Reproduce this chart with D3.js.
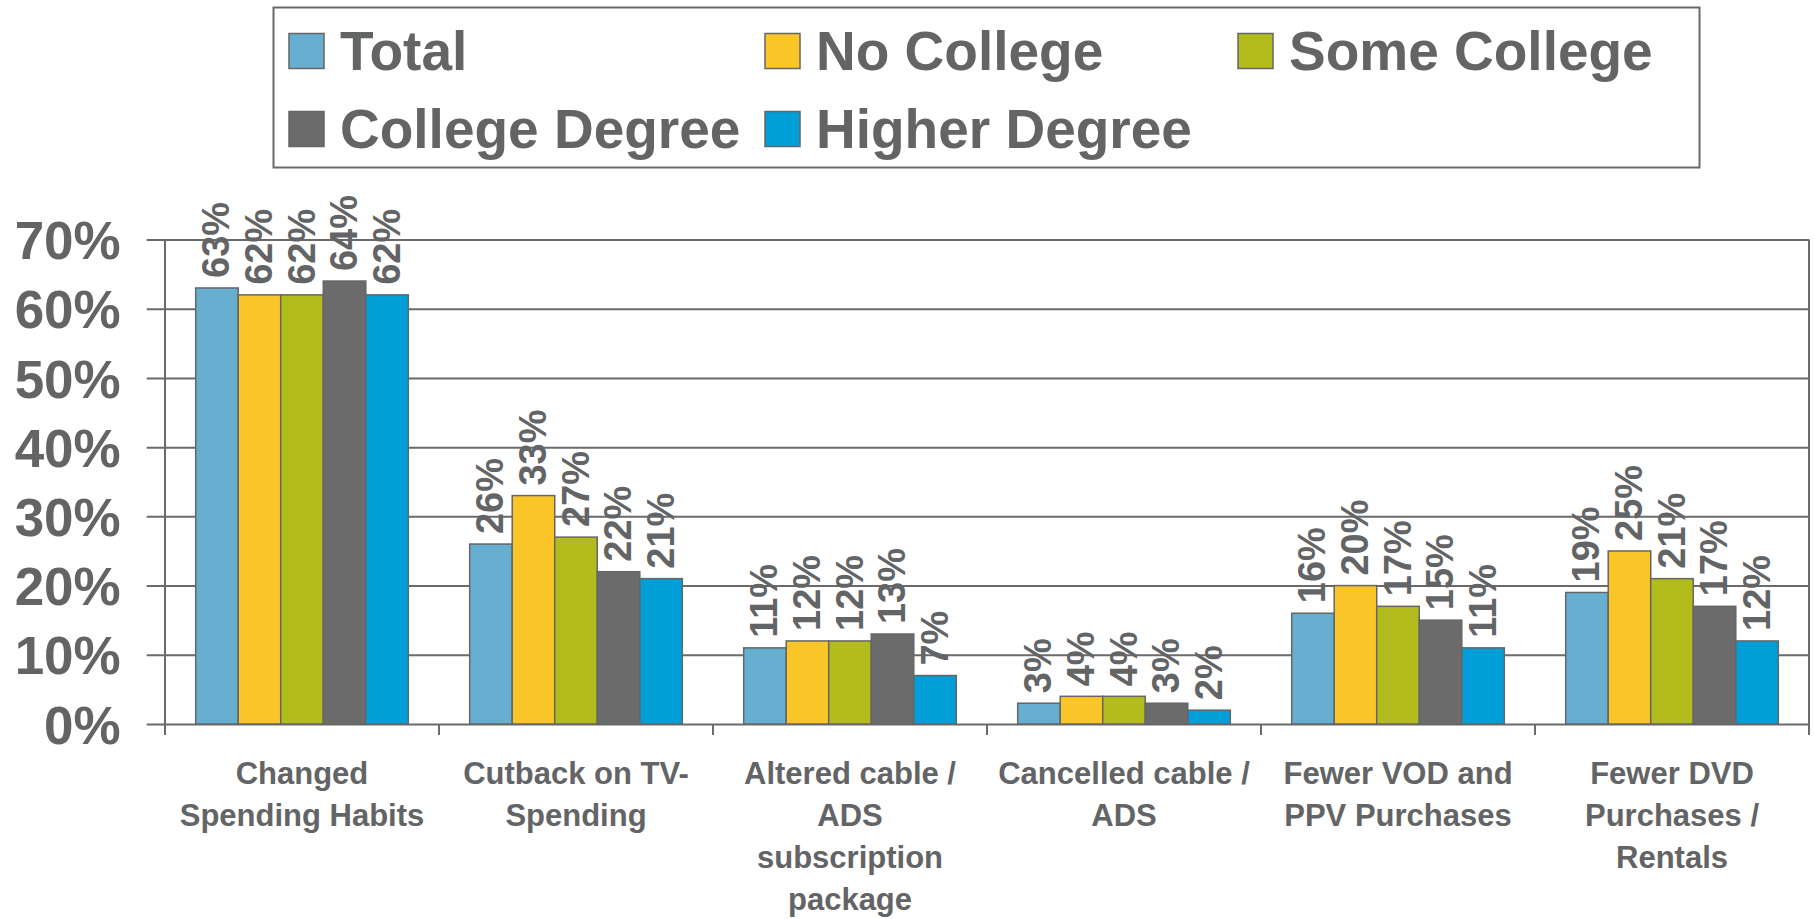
<!DOCTYPE html>
<html>
<head>
<meta charset="utf-8">
<script src="https://cdn.jsdelivr.net/npm/d3@7"></script>
<style>
  body { margin: 0; background: #fff; }
  svg { display: block; font-family: "Liberation Sans", Arial, sans-serif; font-weight: bold; }
</style>
</head>
<body>
<div id="chart"></div>
<script>
(function() {

  var categories = [
    ["Changed", "Spending Habits"],
    ["Cutback on TV-", "Spending"],
    ["Altered cable /", "ADS", "subscription", "package"],
    ["Cancelled cable /", "ADS"],
    ["Fewer VOD and", "PPV Purchases"],
    ["Fewer DVD", "Purchases /", "Rentals"]
  ]
  var series = ["Total", "No College", "Some College", "College Degree", "Higher Degree"]
  var colors = ["#67afd1", "#fac526", "#b2bc1c", "#6b6b6b", "#009fd8"]

  // percent values per series, one per category
  var total         = [63, 26, 11, 3, 16, 19]
  var noCollege     = [62, 33, 12, 4, 20, 25]
  var someCollege   = [62, 27, 12, 4, 17, 21]
  var collegeDegree = [64, 22, 13, 3, 15, 17]
  var higherDegree  = [62, 21, 7, 2, 11, 12]
  var values = [total, noCollege, someCollege, collegeDegree, higherDegree]

  var yTicks = [0, 10, 20, 30, 40, 50, 60, 70]

  var width = 1814, height = 919
  var textColor = "#636466", lineColor = "#6a6a6a"
  var left = 165, right = 1809, top = 239.5, bottom = 724

  var svg = d3.select("#chart").append("svg")
      .attr("width", width)
      .attr("height", height)

  var x = d3.scaleBand()
      .domain(d3.range(categories.length))
      .range([left, right])

  var pad = x.bandwidth() * 0.112
  var xs = d3.scaleBand()
      .domain(d3.range(series.length))
      .range([pad, x.bandwidth() - pad])

  var y = d3.scaleLinear()
      .domain([0, 70])
      .range([bottom, top])

  // gridlines + y labels (axis anchored at the right border, ticks reaching left past the axis)
  var yAxis = svg.append("g")
      .attr("transform", "translate(" + right + ",0)")
      .call(d3.axisLeft(y)
        .tickValues(yTicks)
        .tickSize(right - 146.7)
        .tickPadding(26)
        .tickFormat(function(d) { return d + "%" }))

  yAxis.select(".domain").remove()
  yAxis.selectAll("line")
      .attr("stroke", lineColor)
      .attr("stroke-width", 2)
  yAxis.selectAll("text")
      .attr("fill", textColor)
      .style("font-size", "53px")
      .style("font-family", "'Liberation Sans', Arial, sans-serif")
      .style("font-weight", "bold")
      .attr("dy", "0.36em")

  // left axis and right border
  svg.append("line")
      .attr("x1", left).attr("x2", left)
      .attr("y1", top).attr("y2", bottom)
      .attr("stroke", lineColor).attr("stroke-width", 2)
  svg.append("line")
      .attr("x1", right).attr("x2", right)
      .attr("y1", top).attr("y2", bottom)
      .attr("stroke", lineColor).attr("stroke-width", 2)

  // category boundary ticks
  var bounds = d3.range(categories.length).map(function(i) { return x(i) }).concat([right])
  svg.append("g").selectAll("line")
      .data(bounds)
      .enter().append("line")
      .attr("x1", d => d).attr("x2", d => d)
      .attr("y1", bottom).attr("y2", bottom + 11)
      .attr("stroke", lineColor).attr("stroke-width", 2)

  // bars
  var groups = svg.append("g").selectAll("g")
      .data(categories)
      .enter().append("g")
      .attr("transform", function(d, i) { return "translate(" + x(i) + ",0)" })

  groups.each(function(cat, ci) {
    var g = d3.select(this)
    var vals = values.map(function(s) { return s[ci] })

    g.selectAll("rect")
        .data(vals)
        .enter().append("rect")
        .attr("x", (d, si) => xs(si))
        .attr("y", d => y(d))
        .attr("width", xs.bandwidth())
        .attr("height", d => y(0) - y(d))
        .attr("fill", (d, si) => colors[si])
        .attr("stroke", "#666")
        .attr("stroke-width", 1.5)

    g.selectAll("text.val")
        .data(vals)
        .enter().append("text")
        .attr("class", "val")
        .attr("transform", function(d, si) {
          return "translate(" + (xs(si) + xs.bandwidth() / 2) + "," + (y(d) - 10) + ") rotate(-90)"
        })
        .attr("dy", "0.33em")
        .attr("text-anchor", "start")
        .attr("fill", textColor)
        .style("font-size", "38px")
        .text(d => d + "%")
  })

  // category labels
  svg.append("g").selectAll("text")
      .data(categories)
      .enter().append("text")
      .attr("text-anchor", "middle")
      .attr("fill", textColor)
      .style("font-size", "31px")
      .attr("transform", function(d, i) {
        return "translate(" + (x(i) + x.bandwidth() / 2) + ",784)"
      })
      .selectAll("tspan")
      .data(d => d)
      .enter().append("tspan")
      .attr("x", 0)
      .attr("y", (d, i) => i * 42)
      .text(d => d)

  // legend
  svg.append("rect")
      .attr("x", 273.5).attr("y", 7.5)
      .attr("width", 1426).attr("height", 160)
      .attr("fill", "none")
      .attr("stroke", lineColor)
      .attr("stroke-width", 2)

  var colX = [289, 765, 1238], rowY = [33.5, 111.5]
  var items = svg.append("g").selectAll("g")
      .data(series)
      .enter().append("g")
      .attr("transform", function(d, i) {
        return "translate(" + colX[i % 3] + "," + rowY[Math.floor(i / 3)] + ")"
      })

  items.append("rect")
      .attr("width", 35).attr("height", 35)
      .attr("fill", (d, i) => colors[i])
      .attr("stroke", "#666")
      .attr("stroke-width", 1.5)

  items.append("text")
      .attr("x", 51)
      .attr("y", 36.5)
      .attr("fill", textColor)
      .style("font-size", "55px")
      .text(d => d)

})()
</script>
</body>
</html>
